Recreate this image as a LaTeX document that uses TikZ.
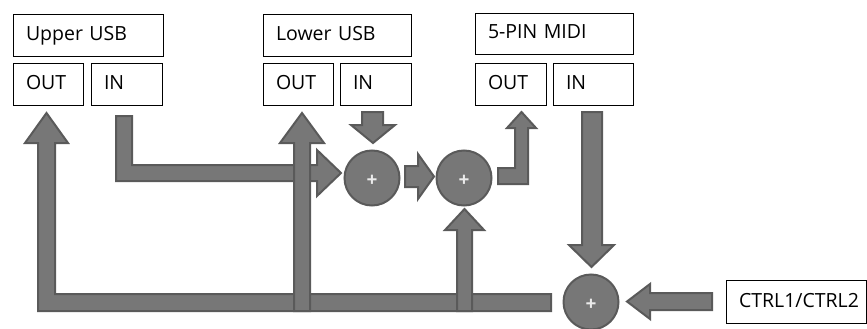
\documentclass[tikz,border=0pt]{standalone}
\usepackage{fontspec}
\setmainfont{Open Sans}
\definecolor{blockfill}{HTML}{777777}
\definecolor{blockedge}{HTML}{5A5A5A}
\tikzset{
  port/.style={draw=black, line width=0.9pt, fill=white, rectangle,
    inner xsep=13pt, inner ysep=0pt, minimum height=42pt, align=left,
    font=\fontsize{19.5}{21}\selectfont, text height=14pt, text depth=3pt},
  mixer/.style={circle, fill=blockfill, draw=blockedge, line width=2pt,
    minimum size=55pt, inner sep=0pt},
  plus/.style={text=white!92!black, font=\fontsize{19}{19}\selectfont\bfseries},
  blockarrow/.style={fill=blockfill, draw=blockedge, line width=2pt, line join=miter}
}
\begin{document}
\begin{tikzpicture}[x=1pt, y=-1pt]
\useasboundingbox (0,0) rectangle (867,329);

% port boxes
\node[port, text width=124pt] (upper)  at (88,35)    {Upper USB};
\node[port, text width=44pt]  (upout)  at (48,84)    {OUT};
\node[port, text width=45pt]  (upin)   at (126.5,84) {IN};
\node[port, text width=122pt] (lower)  at (337,35)   {Lower USB};
\node[port, text width=44pt]  (loout)  at (298,84)   {OUT};
\node[port, text width=45pt]  (loin)   at (375.5,84) {IN};
\node[port, text width=132pt, minimum height=41pt] (midi) at (554,33.5) {5-PIN MIDI};
\node[port, text width=45pt]  (miout)  at (510.5,84) {OUT};
\node[port, text width=54pt]  (miin)   at (593,84)   {IN};
\node[port, text width=114pt, minimum height=43pt] (ctrl) at (796,301.5) {CTRL1/CTRL2};

% merge feedback bar back to Upper USB OUT
\draw[blockarrow] (551,294) -- (55,294) -- (55,143) -- (68,143) -- (46.5,113)
  -- (25,143) -- (38,143) -- (38,311) -- (551,311) -- cycle;
% Upper USB IN into first mixer
\draw[blockarrow] (116,116) -- (132,116) -- (132,165) -- (317,165) -- (317,150)
  -- (341,173) -- (317,196) -- (317,181) -- (116,181) -- cycle;
% feedback to Lower USB OUT
\draw[blockarrow] (294,311) -- (294,143) -- (280,143) -- (302,113) -- (324,143)
  -- (310,143) -- (310,311) -- cycle;
% feedback into second mixer
\draw[blockarrow] (457,311) -- (457,230) -- (445,230) -- (464.5,209) -- (484,230)
  -- (472,230) -- (472,311) -- cycle;
% Lower USB IN into first mixer
\draw[blockarrow] (362,112) -- (383,112) -- (383,125) -- (395,125) -- (373,143)
  -- (351,125) -- (362,125) -- cycle;
% first mixer to second mixer
\draw[blockarrow] (405,166) -- (418,166) -- (418,154) -- (434,176.5) -- (418,199)
  -- (418,187) -- (405,187) -- cycle;
% second mixer to 5-PIN MIDI OUT
\draw[blockarrow] (498,168) -- (515,168) -- (515,128) -- (507,128) -- (521.5,112)
  -- (536,128) -- (528,128) -- (528,184) -- (498,184) -- cycle;
% 5-PIN MIDI IN into third mixer
\draw[blockarrow] (582,112) -- (602,112) -- (602,245) -- (614,245) -- (591.5,267)
  -- (569,245) -- (582,245) -- cycle;
% CTRL1/CTRL2 into third mixer
\draw[blockarrow] (712,293) -- (712,310) -- (650,310) -- (650,319) -- (627,301.5)
  -- (650,284) -- (650,293) -- cycle;

% mixers
\node[mixer] (m1) at (372,178) {};
\node[mixer] (m2) at (464,178) {};
\node[mixer] (m3) at (591,302) {};
\node[plus] at ([yshift=-3pt]m1.center) {+};
\node[plus] at ([yshift=-3pt]m2.center) {+};
\node[plus] at ([yshift=-3pt]m3.center) {+};
\end{tikzpicture}
\end{document}
